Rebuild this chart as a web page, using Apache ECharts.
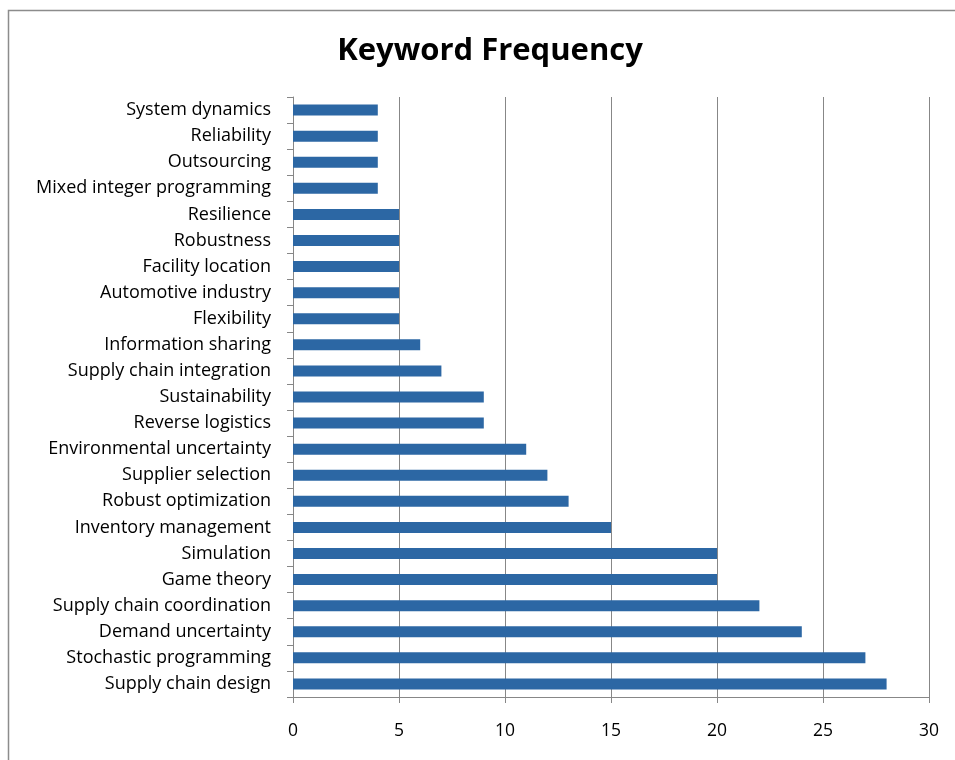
<!DOCTYPE html>
<html>
<head>
<meta charset="utf-8">
<script src="https://cdn.jsdelivr.net/npm/echarts@6/dist/echarts.min.js"></script>
<style>
  html, body { margin: 0; padding: 0; background: #fff; }
  #chart { width: 955px; height: 760px; }
</style>
</head>
<body>
<div id="chart"></div>
<script>
// keywords, top to bottom as drawn
const keywords = [
  "System dynamics", "Reliability", "Outsourcing", "Mixed integer programming",
  "Resilience", "Robustness", "Facility location", "Automotive industry",
  "Flexibility", "Information sharing", "Supply chain integration", "Sustainability",
  "Reverse logistics", "Environmental uncertainty", "Supplier selection",
  "Robust optimization", "Inventory management", "Simulation", "Game theory",
  "Supply chain coordination", "Demand uncertainty", "Stochastic programming",
  "Supply chain design"
];
const frequency = [4, 4, 4, 4, 5, 5, 5, 5, 5, 6, 7, 9, 9, 11, 12, 13, 15, 20, 20, 22, 24, 27, 28];
const xTicks = [0, 5, 10, 15, 20, 25, 30];

const chart = echarts.init(document.getElementById("chart"));
const font = "'Open Sans', Lato, sans-serif";
const gray = "#878787";

chart.setOption({
  backgroundColor: "#fff",
  animation: false,
  title: {
    text: "Keyword Frequency",
    left: 485,
    textAlign: "center",
    top: 31,
    textStyle: { fontFamily: font, fontSize: 31, fontWeight: "bold", color: "#000" },
  },
  graphic: [
    {
      type: "rect",
      shape: { x: 8.5, y: 10.5, width: 980, height: 800 },
      style: { fill: "none", stroke: "#8c8c8c", lineWidth: 1.5 },
    },
  ],
  grid: { left: 293, right: 26, top: 97, bottom: 63 },
  xAxis: {
    type: "value",
    min: xTicks[0],
    max: xTicks[xTicks.length - 1],
    interval: 5,
    axisLine: { show: true, lineStyle: { color: gray } },
    axisTick: { show: true, length: 6, lineStyle: { color: gray } },
    axisLabel: { color: "#000", fontFamily: font, fontSize: 17.5, margin: 25 },
    splitLine: { show: true, lineStyle: { color: gray, width: 1 } },
  },
  yAxis: {
    type: "category",
    inverse: true,
    data: keywords,
    axisLine: { show: true, lineStyle: { color: gray } },
    axisTick: { show: true, length: 6, lineStyle: { color: gray } },
    axisLabel: { color: "#000", fontFamily: font, fontSize: 18, margin: 22, padding: [3, 0, 0, 0] },
    splitLine: { show: false },
  },
  series: [
    {
      type: "bar",
      data: frequency,
      barWidth: 11,
      itemStyle: { color: "#2c67a4" },
    },
  ],
});
</script>
</body>
</html>
